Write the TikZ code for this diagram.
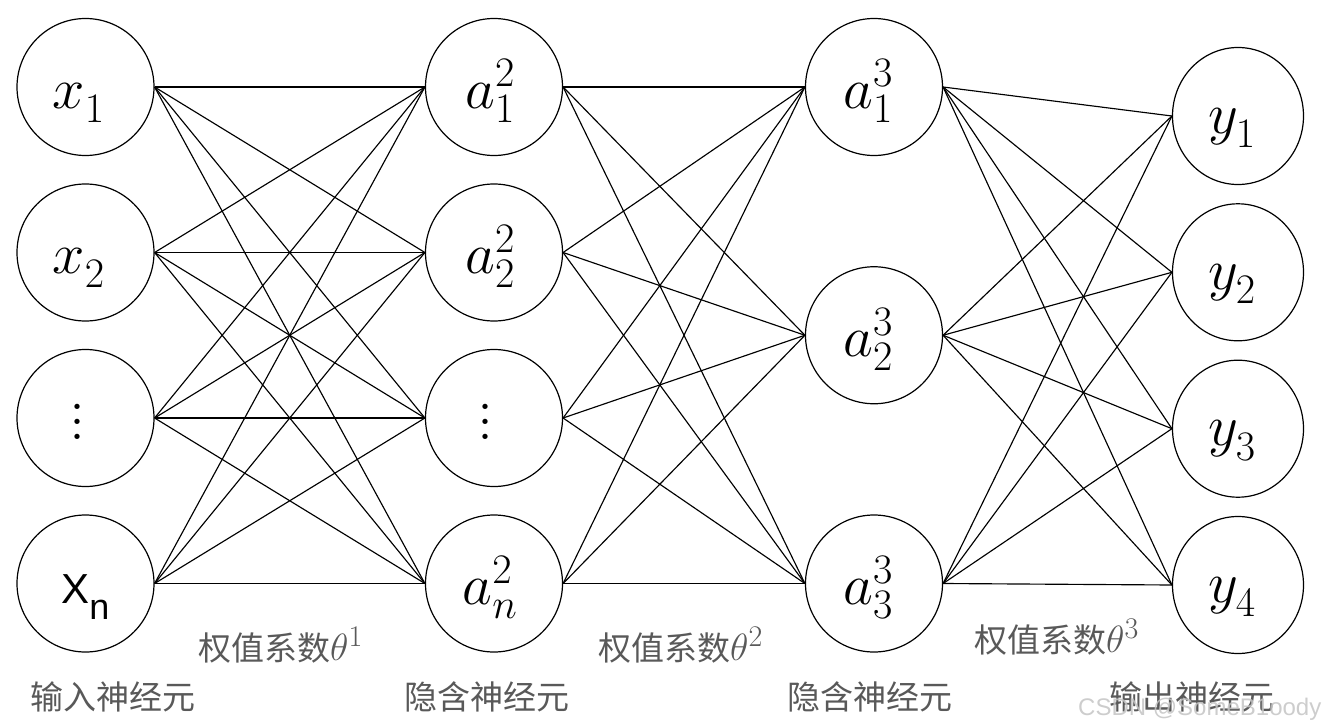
\RequirePackage{fix-cm}
\documentclass[tikz,border=0pt]{standalone}
\usepackage{fontspec}
\newfontfamily\cjk{Noto Sans CJK SC}
\newfontfamily\arialf{Liberation Sans}
\usetikzlibrary{shapes.geometric}
\definecolor{lbl}{HTML}{595959}
\definecolor{wm}{HTML}{C4C4C4}
\DeclareMathSizes{58}{58}{42}{30}
\DeclareMathSizes{38}{38}{30}{22}
\begin{document}
\begin{tikzpicture}[x=1pt,y=-1pt,
  neuron/.style={circle,draw,line width=1.2pt,minimum size=137pt,inner sep=0pt,
    font=\fontsize{58}{60}\selectfont,text height=42pt,text depth=0pt},
  outn/.style={ellipse,draw,line width=1.2pt,minimum width=131pt,minimum height=137pt,inner sep=0pt,
    font=\fontsize{58}{60}\selectfont,text height=34pt,text depth=0pt},
  dotsn/.style={text height=42.6pt,text depth=0pt},
  xnn/.style={text height=39pt,text depth=0pt},
  conn/.style={line width=1.15pt},
  lab/.style={anchor=base west,inner sep=0pt,text=lbl,font=\cjk\fontsize{33}{36}\selectfont},
  wmk/.style={anchor=base west,inner sep=0pt,text=wm,font=\arialf\fontsize{24}{26}\selectfont},
]
\useasboundingbox (0,0) rectangle (1326,728);
\newcommand{\threedots}{{\fontsize{64}{14.7}\selectfont\vbox{\hbox{.}\hbox{.}\hbox{.}}}\kern17pt}
% input layer
\node[neuron] (x1) at (85.5,87) {$x^{}_1$\kern14pt};
\node[neuron] (x2) at (85.5,252.5) {$x^{}_2$\kern14pt};
\node[neuron,dotsn] (x3) at (85.5,418) {\threedots};
\node[neuron,xnn] (x4) at (85.5,583.5) {\arialf\fontsize{42}{44}\selectfont X\raisebox{-16pt}{\fontsize{36}{38}\selectfont n}};
% hidden layer 1
\node[neuron] (h1) at (494,87) {$a^2_1$\kern8pt};
\node[neuron] (h2) at (494,252.5) {$a^2_2$\kern8pt};
\node[neuron,dotsn] (h3) at (494,418) {\threedots};
\node[neuron] (h4) at (494,583.5) {$a^2_n$\kern8pt};
% hidden layer 2
\node[neuron] (g1) at (874,87) {$a^3_1$\kern12pt};
\node[neuron] (g2) at (874,335.25) {$a^3_2$\kern12pt};
\node[neuron] (g3) at (874,583.5) {$a^3_3$\kern12pt};
% output layer
\node[outn] (y1) at (1238,116) {$y^{}_1$\kern12pt};
\node[outn] (y2) at (1238,272.3) {$y^{}_2$\kern12pt};
\node[outn] (y3) at (1238,428.7) {$y^{}_3$\kern12pt};
\node[outn] (y4) at (1238,585) {$y^{}_4$\kern12pt};
% connections
\foreach \i in {1,...,4}{\foreach \j in {1,...,4}{\draw[conn] (x\i.east) -- (h\j.west);}}
\foreach \i in {1,...,4}{\foreach \j in {1,...,3}{\draw[conn] (h\i.east) -- (g\j.west);}}
\foreach \i in {1,...,3}{\foreach \j in {1,...,4}{\draw[conn] (g\i.east) -- (y\j.west);}}
% labels
\node[lab] (w1) at (198,660) {权值系数{\fontsize{38}{40}\selectfont$\theta^1$}};
\node[lab] (w2) at (598,660) {权值系数{\fontsize{38}{40}\selectfont$\theta^2$}};
\node[lab] (w3) at (974,652) {权值系数{\fontsize{38}{40}\selectfont$\theta^3$}};
\node[lab] (n1) at (30,709) {输入神经元};
\node[lab] (n2) at (404,709) {隐含神经元};
\node[lab] (n3) at (787.5,709) {隐含神经元};
\node[lab] (n4) at (1109,709) {输出神经元};
\node[wmk,opacity=0.85] (wm) at (1078,715) {CSDN @SomeB1oody};
\end{tikzpicture}
\end{document}
